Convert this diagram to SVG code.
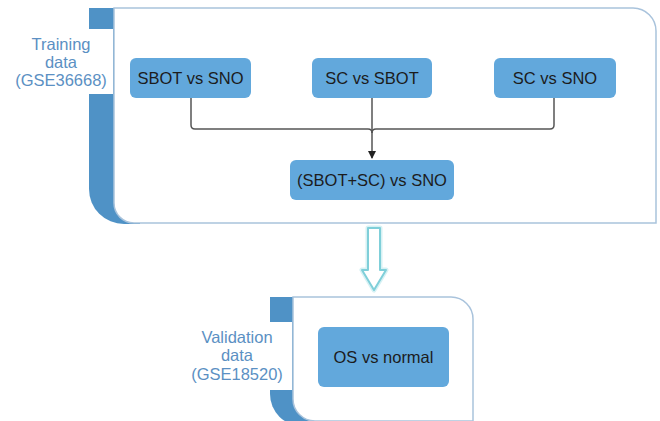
<svg xmlns="http://www.w3.org/2000/svg" width="660" height="421" viewBox="0 0 660 421">
<defs>
<style>
.strip{fill:#4f92c6}
.panel{fill:#ffffff;stroke:#a9c3dc;stroke-width:1.5}
.notch{fill:#ffffff}
.lbl{font-family:"Liberation Sans",Arial,sans-serif;font-size:16.5px;fill:#5b90c3;text-anchor:middle}
.box{fill:#62a8dc}
.bt{font-family:"Liberation Sans",Arial,sans-serif;font-size:16.5px;fill:#1c1c1c;text-anchor:middle}
.con{fill:none;stroke:#555555;stroke-width:1.5}
</style>
<marker id="ah" markerWidth="8" markerHeight="8" refX="7" refY="4" orient="auto" markerUnits="userSpaceOnUse">
<path d="M0,0 L8,4 L0,8 Z" fill="#222222"/>
</marker>
</defs>
<rect width="660" height="421" fill="#ffffff"/>

<g id="training-panel">
<path class="strip" d="M89,8 H140 V224 H124 A35,35 0 0 1 89,189 Z"/>
<path class="panel" d="M114,8 H633 A23,23 0 0 1 656,31 V223 H134 A20,20 0 0 1 114,203 Z"/>
<rect class="notch" x="88" y="29" width="25" height="65"/>
<text class="lbl" x="61" y="50">Training</text>
<text class="lbl" x="61" y="68">data</text>
<text class="lbl" x="61" y="86">(GSE36668)</text>
</g>

<g id="node-sbot-sno">
<rect class="box" x="130" y="58" width="121" height="40" rx="6"/>
<text class="bt" x="190.5" y="84">SBOT vs SNO</text>
</g>
<g id="node-sc-sbot">
<rect class="box" x="312" y="58" width="120" height="40" rx="6"/>
<text class="bt" x="372" y="84">SC vs SBOT</text>
</g>
<g id="node-sc-sno">
<rect class="box" x="494" y="58" width="122" height="40" rx="6"/>
<text class="bt" x="555" y="84">SC vs SNO</text>
</g>
<g id="node-combined">
<rect class="box" x="290" y="160" width="164" height="40" rx="6"/>
<text class="bt" x="372" y="186">(SBOT+SC) vs SNO</text>
</g>

<g id="connectors">
<path class="con" d="M191,98 V125 Q191,129 195,129 H368 Q372,129 372,133"/>
<path class="con" d="M554,98 V125 Q554,129 550,129 H376 Q372,129 372,133"/>
<path class="con" d="M372,98 V158" marker-end="url(#ah)"/>
<path d="M368,228 H380 V270 H386 L374,290 L362,270 H368 Z" fill="none" stroke="#d6f1f4" stroke-width="5" stroke-linejoin="round"/>
<path d="M368,228 H380 V270 H386 L374,290 L362,270 H368 Z" fill="#ffffff" stroke="#7fcfd9" stroke-width="2" stroke-linejoin="round"/>
</g>

<g id="validation-panel">
<path class="strip" d="M270,297 H320 V426 H302 A32,32 0 0 1 270,394 Z"/>
<path class="panel" d="M293,297 H451 A22,22 0 0 1 473,319 V440 H473 V421 H315 A22,22 0 0 1 293,399 Z"/>
<rect class="notch" x="269" y="322" width="23" height="68"/>
<text class="lbl" x="237" y="343">Validation</text>
<text class="lbl" x="237" y="361">data</text>
<text class="lbl" x="237" y="380">(GSE18520)</text>
</g>

<g id="node-os-normal">
<rect class="box" x="318" y="327" width="131" height="60" rx="6"/>
<text class="bt" x="383.5" y="363">OS vs normal</text>
</g>
</svg>
